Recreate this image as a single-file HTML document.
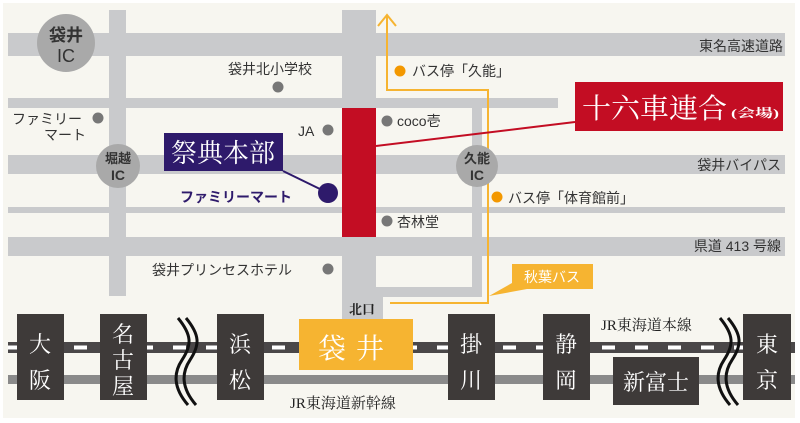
<!DOCTYPE html>
<html><head><meta charset="utf-8"><style>
html,body{margin:0;padding:0;background:#fff;}
svg{display:block;}
.s{font-family:"Liberation Sans","Noto Sans CJK JP",sans-serif;}
.m{font-family:"Liberation Serif","Noto Serif CJK SC",serif;}
</style></head><body>
<svg width="800" height="423" viewBox="0 0 800 423" xmlns="http://www.w3.org/2000/svg">
<rect x="3" y="3" width="792" height="415" fill="#f7f6f0"/>
<g fill="#c9cacc">
<rect x="8" y="33" width="777" height="23"/>
<rect x="8" y="98" width="550" height="10"/>
<rect x="8" y="155" width="777" height="19"/>
<rect x="8" y="207" width="777" height="6"/>
<rect x="8" y="237" width="777" height="19"/>
<rect x="109" y="10" width="17" height="286"/>
<rect x="342" y="10" width="34" height="309"/>
<rect x="472" y="98" width="10" height="199"/>
<rect x="342" y="287" width="140" height="10"/>
</g>
<rect x="342" y="108" width="34" height="129" fill="#c30d23"/>
<polyline points="387,16 387,90 488,90 488,303 390,303" fill="none" stroke="#f6b431" stroke-width="2"/>
<polyline points="378,26 387,15 396,26" fill="none" stroke="#f6b431" stroke-width="2"/>
<polygon points="512,264 593,264 593,289 527,289 489,296 512,283" fill="#f6b431"/>
<text x="552" y="282" class="s" font-size="14" fill="#fff" text-anchor="middle">秋葉バス</text>
<circle cx="66" cy="43" r="29" fill="#a9a9a9"/>
<text x="66" y="41" class="s" font-size="17" font-weight="bold" fill="#333" text-anchor="middle">袋井</text>
<text x="66" y="62" class="s" font-size="18" fill="#333" text-anchor="middle">IC</text>
<circle cx="118" cy="166" r="22" fill="#a9a9a9"/>
<text x="118" y="163" class="s" font-size="13" font-weight="bold" fill="#333" text-anchor="middle">堀越</text>
<text x="118" y="180" class="s" font-size="14" font-weight="bold" fill="#333" text-anchor="middle">IC</text>
<circle cx="477" cy="166" r="21" fill="#a9a9a9"/>
<text x="477" y="163" class="s" font-size="13" font-weight="bold" fill="#333" text-anchor="middle">久能</text>
<text x="477" y="180" class="s" font-size="14" font-weight="bold" fill="#333" text-anchor="middle">IC</text>
<g fill="#777">
<circle cx="278" cy="87" r="5.5"/><circle cx="98" cy="118" r="5.5"/><circle cx="328" cy="130" r="5.5"/>
<circle cx="387" cy="121" r="5.5"/><circle cx="387" cy="221" r="5.5"/><circle cx="328" cy="269" r="5.5"/>
</g>
<circle cx="400" cy="71" r="5.5" fill="#f39800"/>
<circle cx="497" cy="197" r="5.5" fill="#f39800"/>
<g class="s" font-size="14" fill="#333">
<text x="228" y="74">袋井北小学校</text>
<text x="12" y="124">ファミリー</text>
<text x="44" y="140">マート</text>
<text x="298" y="136">JA</text>
<text x="397" y="126">coco壱</text>
<text x="397" y="227">杏林堂</text>
<text x="152" y="275">袋井プリンセスホテル</text>
<text x="412" y="76">バス停「久能」</text>
<text x="508" y="203">バス停「体育館前」</text>
<text x="783" y="51" text-anchor="end">東名高速道路</text>
<text x="781" y="170" text-anchor="end">袋井バイパス</text>
<text x="781" y="251" text-anchor="end">県道 413 号線</text>
</g>
<line x1="376" y1="146" x2="575" y2="122" stroke="#c30d23" stroke-width="2"/>
<rect x="575" y="82" width="208" height="49" fill="#c30d23"/>
<text x="582" y="118" class="m" font-size="28" fill="#fff" textLength="145" lengthAdjust="spacingAndGlyphs">十六車連合</text>
<text x="731" y="117" class="m" font-size="12" font-weight="bold" fill="#fff" textLength="48" lengthAdjust="spacingAndGlyphs">(会場)</text>
<line x1="283" y1="171" x2="322" y2="190" stroke="#2e1a6b" stroke-width="2"/>
<circle cx="328" cy="193" r="10" fill="#2e1a6b"/>
<rect x="164" y="133" width="119" height="38" fill="#2e1a6b"/>
<text x="223" y="162" class="m" font-size="26" fill="#fff" text-anchor="middle">祭典本部</text>
<text x="180" y="202" class="s" font-size="14" font-weight="bold" fill="#2e1a6b">ファミリーマート</text>
<rect x="8" y="342" width="787" height="11" fill="#4a4748"/>
<line x1="8" y1="347.5" x2="795" y2="347.5" stroke="#fff" stroke-width="4" stroke-dasharray="13 20"/>
<rect x="8" y="375" width="787" height="9" fill="#8a8a8a"/>
<rect x="342" y="297" width="41" height="22" fill="#c9cacc"/>
<text x="362" y="314" class="m" font-size="13" font-weight="bold" fill="#222" text-anchor="middle">北口</text>
<g fill="#3e3a39">
<rect x="17" y="314" width="47" height="86"/><rect x="100" y="314" width="47" height="86"/>
<rect x="217" y="314" width="47" height="86"/><rect x="448" y="314" width="47" height="86"/>
<rect x="543" y="314" width="47" height="86"/><rect x="743" y="314" width="48" height="86"/>
<rect x="613" y="357" width="86" height="48"/>
</g>
<rect x="299" y="319" width="114" height="51" fill="#f6b431"/>
<text x="356" y="358" class="m" font-size="28" fill="#fff" text-anchor="middle" letter-spacing="10">袋井</text>
<g class="m" font-size="22" fill="#fff" text-anchor="middle">
<text x="40" y="352">大</text><text x="40" y="388">阪</text>
<text x="123" y="342">名</text><text x="123" y="368">古</text><text x="123" y="394">屋</text>
<text x="240" y="352">浜</text><text x="240" y="388">松</text>
<text x="471" y="352">掛</text><text x="471" y="388">川</text>
<text x="566" y="352">静</text><text x="566" y="388">岡</text>
<text x="767" y="352">東</text><text x="767" y="388">京</text>
<text x="656" y="390">新富士</text>
</g>
<g class="m" font-size="15" fill="#222">
<text x="290" y="408">JR東海道新幹線</text>
<text x="601" y="330">JR東海道本線</text>
</g>
<g fill="none" stroke="#111" stroke-width="3">
<path d="M178,318 C192,335 192,345 182,360 C172,375 175,390 188,405"/>
<path d="M186,318 C200,335 200,345 190,360 C180,375 183,390 196,405"/>
<path d="M720,318 C734,335 734,345 724,360 C714,375 717,390 730,405"/>
<path d="M728,318 C742,335 742,345 732,360 C722,375 725,390 738,405"/>
</g>
</svg>
</body></html>
